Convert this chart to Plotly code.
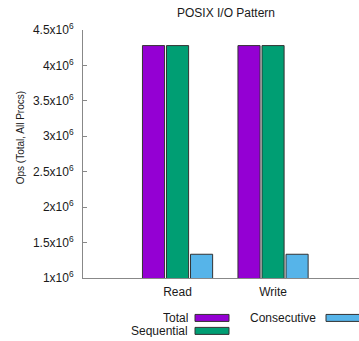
import plotly.graph_objects as go

categories = ["Read", "Write"]
series_names = ["Total", "Sequential", "Consecutive"]
series_values = [
    [4.28e6, 4.28e6],
    [4.28e6, 4.28e6],
    [1.335e6, 1.335e6],
]
colors = ["#9400D3", "#009E73", "#56B4E9"]
ytick_vals = [1e6, 1.5e6, 2e6, 2.5e6, 3e6, 3.5e6, 4e6, 4.5e6]
ytick_text = ["1x10<sup>6</sup>", "1.5x10<sup>6</sup>", "2x10<sup>6</sup>", "2.5x10<sup>6</sup>",
              "3x10<sup>6</sup>", "3.5x10<sup>6</sup>", "4x10<sup>6</sup>", "4.5x10<sup>6</sup>"]

W, H = 359, 341
L, R, T, B = 83, 359, 29.5, 278

def px(x):
    return (x - L) / (R - L)

def py(y):
    return (B - y) / (B - T)

fig = go.Figure()
for name, vals, c in zip(series_names, series_values, colors):
    fig.add_trace(go.Bar(x=[0, 1], y=vals, name=name, marker=dict(color=c, line=dict(color="#333333", width=1)),
                         showlegend=False))

font = dict(family="Liberation Sans, Arial, sans-serif", size=12, color="#1a1a1a")
small = dict(font, size=10)

# custom legend
legend_pos = [
    (190, 318, 195, 229),
    (190, 331, 195, 229),
    (318, 318, 326, 362),
]
annotations = []
shapes = []
for (tx, ty, sx0, sx1), name, c in zip(legend_pos, series_names, colors):
    annotations.append(dict(x=px(tx), y=py(ty), xref="paper", yref="paper", text=name, showarrow=False,
                            xanchor="right", yanchor="middle", font=font, height=12, valign="middle"))
    shapes.append(dict(type="rect", xref="paper", yref="paper", x0=px(sx0), x1=px(sx1),
                       y0=py(ty - 3.5), y1=py(ty + 3.5), fillcolor=c, line=dict(color="#333333", width=1)))

annotations.append(dict(x=px(226), y=py(12), xref="paper", yref="paper", text="POSIX I/O Pattern",
                        showarrow=False, xanchor="center", yanchor="middle", font=font))
annotations.append(dict(x=px(20), y=py(138), xref="paper", yref="paper", text="Ops (Total, All Procs)",
                        showarrow=False, textangle=-90, xanchor="center", yanchor="middle", font=small))

fig.update_layout(
    width=W, height=H,
    margin=dict(l=L, r=W - R, t=T, b=H - B, pad=0),
    paper_bgcolor="white", plot_bgcolor="white",
    barmode="group", bargap=0.245, bargroupgap=0.08,
    font=font,
    annotations=annotations, shapes=shapes,
    xaxis=dict(range=[-0.99, 1.9], tickvals=[0, 1], ticktext=categories, showgrid=False, zeroline=False,
               showline=True, linecolor="#888888", linewidth=1, ticks="", ticklabelstandoff=3,
               tickfont=font, fixedrange=True),
    yaxis=dict(range=[1e6, 4.5e6], tickvals=ytick_vals, ticktext=ytick_text, showgrid=False, zeroline=False,
               showline=True, linecolor="#888888", linewidth=1, ticks="inside", ticklen=4, tickcolor="#888888",
               ticklabelstandoff=6, tickfont=font, fixedrange=True),
)

fig.write_html("out.html", config={"displayModeBar": False},
               post_script="document.body.style.margin='0';document.body.style.overflow='hidden';")
